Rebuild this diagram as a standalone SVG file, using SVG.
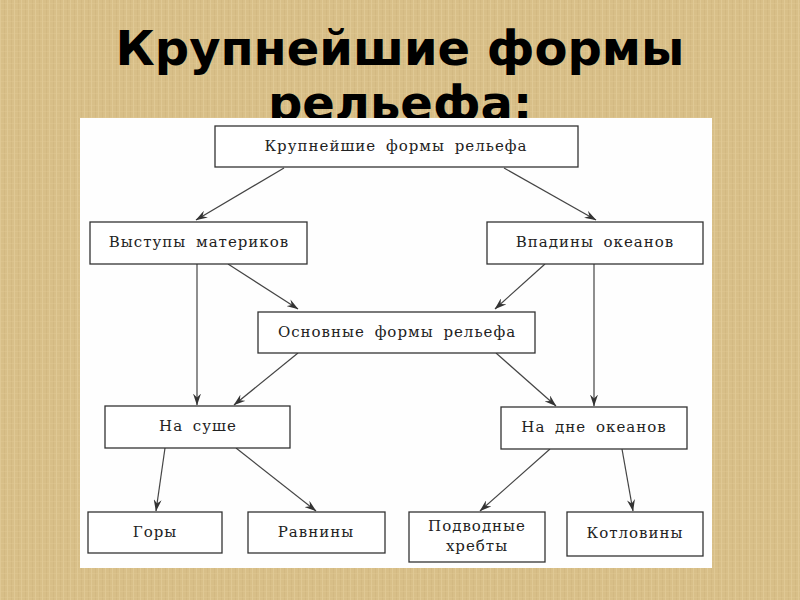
<svg xmlns="http://www.w3.org/2000/svg" width="800" height="600" viewBox="0 0 800 600">
<defs>
<pattern id="tex" width="7" height="6" patternUnits="userSpaceOnUse">
<rect width="7" height="6" fill="#d8bf88"/>
<rect x="0" y="0" width="1" height="6" fill="#e4cf9c" opacity="0.6"/>
<rect x="4" y="0" width="1" height="6" fill="#c8ad75" opacity="0.35"/>
<rect x="0" y="3" width="7" height="1" fill="#e2cb95" opacity="0.35"/>
</pattern>
<marker id="ah" viewBox="0 0 12 8" refX="11.5" refY="4" markerWidth="12" markerHeight="8" markerUnits="userSpaceOnUse" orient="auto">
<path d="M0,0 L12,4 L0,8 L4,4 Z" fill="#333"/>
</marker>
<style>
.title{font-family:"DejaVu Sans",Verdana,sans-serif;font-weight:bold;font-size:48px;fill:#000;text-anchor:middle}
.box{fill:#fff;stroke:#333;stroke-width:1.3}
.lbl{font-family:"DejaVu Serif","Liberation Serif",serif;font-size:15px;fill:#222;text-anchor:middle;letter-spacing:1px;word-spacing:4px}
.con line{stroke:#444;stroke-width:1.2;marker-end:url(#ah)}
</style>
</defs>
<rect width="800" height="600" fill="url(#tex)"/>
<text class="title" x="400" y="65">Крупнейшие формы</text>
<text class="title" x="400" y="120">рельефа:</text>
<rect x="80" y="118" width="632" height="450" fill="#fefefe"/>
<g id="connectors" class="con">
<line x1="284" y1="168" x2="196" y2="220"/>
<line x1="504" y1="168" x2="596" y2="220"/>
<line x1="197" y1="264" x2="197" y2="405"/>
<line x1="228" y1="264" x2="298" y2="309"/>
<line x1="545" y1="264" x2="495" y2="309"/>
<line x1="594" y1="264" x2="594" y2="406"/>
<line x1="298" y1="353" x2="234" y2="405"/>
<line x1="496" y1="353" x2="556" y2="406"/>
<line x1="165" y1="448" x2="156" y2="511"/>
<line x1="236" y1="448" x2="316" y2="511"/>
<line x1="550" y1="449" x2="480" y2="511"/>
<line x1="622" y1="449" x2="633" y2="511"/>
</g>
<g id="n1"><rect class="box" x="215" y="126" width="363" height="41"/><text class="lbl" x="396" y="151">Крупнейшие формы рельефа</text></g>
<g id="n2"><rect class="box" x="90" y="222" width="217" height="42"/><text class="lbl" x="199" y="247">Выступы материков</text></g>
<g id="n3"><rect class="box" x="487" y="222" width="216" height="42"/><text class="lbl" x="595" y="247">Впадины океанов</text></g>
<g id="n4"><rect class="box" x="258" y="312" width="277" height="41"/><text class="lbl" x="397" y="337">Основные формы рельефа</text></g>
<g id="n5"><rect class="box" x="105" y="406" width="185" height="42"/><text class="lbl" x="198" y="431">На суше</text></g>
<g id="n6"><rect class="box" x="501" y="407" width="186" height="42"/><text class="lbl" x="594" y="432">На дне океанов</text></g>
<g id="n7"><rect class="box" x="88" y="512" width="134" height="41"/><text class="lbl" x="155" y="537">Горы</text></g>
<g id="n8"><rect class="box" x="248" y="512" width="137" height="41"/><text class="lbl" x="316" y="537">Равнины</text></g>
<g id="n9"><rect class="box" x="409" y="512" width="136" height="50"/><text class="lbl" x="477" y="531">Подводные</text><text class="lbl" x="477" y="551">хребты</text></g>
<g id="n10"><rect class="box" x="567" y="512" width="136" height="44"/><text class="lbl" x="635" y="538">Котловины</text></g>
</svg>
